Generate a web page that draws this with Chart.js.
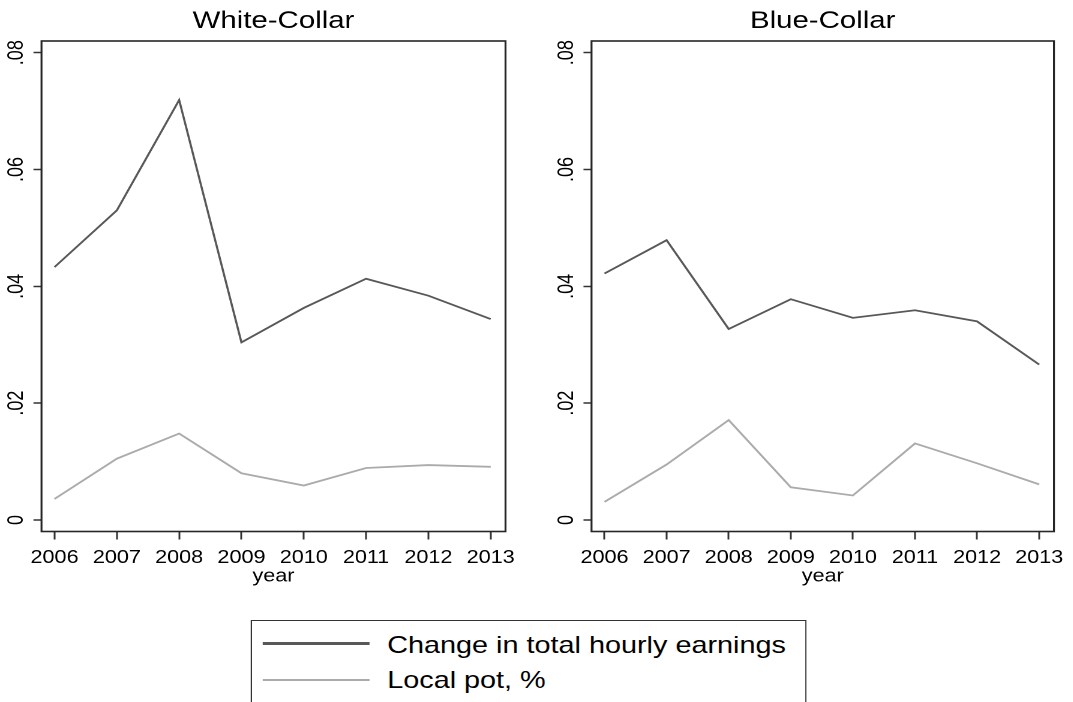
<!DOCTYPE html>
<html>
<head>
<meta charset="utf-8">
<script src="https://cdn.jsdelivr.net/npm/chart.js@4.4.0/dist/chart.umd.min.js"></script>
<style>
html,body{margin:0;padding:0;background:#fff;overflow:hidden;}
#wrap{position:absolute;left:0;top:0;width:894.17px;height:702px;transform:scaleX(1.2);transform-origin:0 0;}
.cv{position:absolute;top:0;}
#legend{position:absolute;left:209.2px;top:620px;width:462.5px;height:110px;border:1.6px solid #333;box-sizing:border-box;font-family:"Liberation Sans",Arial,sans-serif;font-size:24px;color:#000;background:#fff;}
.lg-line{position:absolute;left:8.4px;width:89px;height:2.4px;}
.lg-text{position:absolute;left:112.5px;line-height:28px;white-space:nowrap;}
</style>
</head>
<body>
<div id="wrap">
  <canvas id="c1" class="cv" style="left:0px;width:447px;height:600px" width="447" height="600"></canvas>
  <canvas id="c2" class="cv" style="left:447px;width:447px;height:600px" width="447" height="600"></canvas>
  <div id="legend">
    <div class="lg-line" id="lgl1" style="top:21.2px"></div>
    <div class="lg-text" id="lgt1" style="top:9.6px"></div>
    <div class="lg-line" id="lgl2" style="top:57.9px"></div>
    <div class="lg-text" id="lgt2" style="top:45.1px"></div>
  </div>
</div>
<script>
// ---- data ----
const years = [2006, 2007, 2008, 2009, 2010, 2011, 2012, 2013];
const panelTitles = ["White-Collar", "Blue-Collar"];
const seriesNames = ["Change in total hourly earnings", "Local pot, %"];
const whiteEarnings = [0.0433, 0.0530, 0.0719, 0.0304, 0.0363, 0.0413, 0.0384, 0.0344];
const whiteLocalPot = [0.0036, 0.0105, 0.0148, 0.0080, 0.0059, 0.0089, 0.0094, 0.0091];
const blueEarnings  = [0.0422, 0.0479, 0.0327, 0.0378, 0.0346, 0.0359, 0.0340, 0.0266];
const blueLocalPot  = [0.0031, 0.0095, 0.0171, 0.0056, 0.0042, 0.0131, 0.0097, 0.0061];
const yTickValues = [0, 0.02, 0.04, 0.06, 0.08];
const yTickLabels = ["0", ".02", ".04", ".06", ".08"];
const xAxisTitle = "year";

// ---- style ----
const FONT = '"Liberation Sans", Arial, sans-serif';
const DARK = '#585858';
const LIGHT = '#ababab';
const X_MIN = 2005.791, X_MAX = 2013.238;
const Y_MIN = -0.00197, Y_MAX = 0.0820;

document.getElementById('lgl1').style.background = DARK;
document.getElementById('lgl2').style.background = LIGHT;
document.getElementById('lgt1').textContent = seriesNames[0];
document.getElementById('lgt2').textContent = seriesNames[1];

const framePlugin = {
  id: 'frame',
  afterDraw(chart) {
    const {ctx, chartArea: a} = chart;
    ctx.save();
    ctx.strokeStyle = '#262626';
    ctx.lineWidth = 1.6;
    ctx.strokeRect(a.left, a.top, a.right - a.left, a.bottom - a.top);
    ctx.restore();
  }
};

function makeChart(id, title, earn, pot, yWidth, padRight) {
  const toXY = arr => years.map((y, i) => ({x: y, y: arr[i]}));
  return new Chart(document.getElementById(id), {
    type: 'line',
    data: {
      datasets: [
        {label: seriesNames[0], data: toXY(earn), borderColor: DARK, borderWidth: 1.8, pointRadius: 0, tension: 0, fill: false},
        {label: seriesNames[1], data: toXY(pot), borderColor: LIGHT, borderWidth: 1.8, pointRadius: 0, tension: 0, fill: false}
      ]
    },
    options: {
      responsive: false,
      animation: false,
      devicePixelRatio: 2,
      layout: {padding: {left: 0, right: padRight, top: 0, bottom: 0}},
      plugins: {
        legend: {display: false},
        tooltip: {enabled: false},
        title: {
          display: true, text: title, fullSize: false,
          font: {family: FONT, size: 24.5, weight: 'normal'}, color: '#000',
          padding: {top: 6.6, bottom: 5}
        }
      },
      scales: {
        x: {
          type: 'linear', min: X_MIN, max: X_MAX,
          afterBuildTicks: s => { s.ticks = years.map(v => ({value: v})); },
          afterFit: s => { s.height = 68.5; },
          ticks: {
            font: {family: FONT, size: 18}, color: '#000', padding: 7.5,
            maxRotation: 0, minRotation: 0, autoSkip: false,
            callback: v => String(v)
          },
          grid: {drawOnChartArea: false, drawTicks: true, tickLength: 8, tickWidth: 1.5, tickColor: '#333', color: '#333'},
          border: {display: false},
          title: {display: true, text: xAxisTitle, font: {family: FONT, size: 18}, color: '#000', padding: {top: 0, bottom: 12.5}}
        },
        y: {
          type: 'linear', min: Y_MIN, max: Y_MAX,
          afterBuildTicks: s => { s.ticks = yTickValues.map(v => ({value: v})); },
          afterFit: s => { s.width = yWidth; },
          ticks: {
            font: {family: FONT, size: 18}, color: '#000', padding: 1.2,
            minRotation: 90, maxRotation: 90, crossAlign: 'center', autoSkip: false,
            callback: (v, i) => yTickLabels[i]
          },
          grid: {drawOnChartArea: false, drawTicks: true, tickLength: 6.7, tickWidth: 1.5, tickColor: '#333', color: '#333'},
          border: {display: false}
        }
      }
    },
    plugins: [framePlugin]
  });
}

makeChart('c1', panelTitles[0], whiteEarnings, whiteLocalPot, 34.58, 25.75);
makeChart('c2', panelTitles[1], blueEarnings, blueLocalPot, 45.92, 14.33);
</script>
</body>
</html>
